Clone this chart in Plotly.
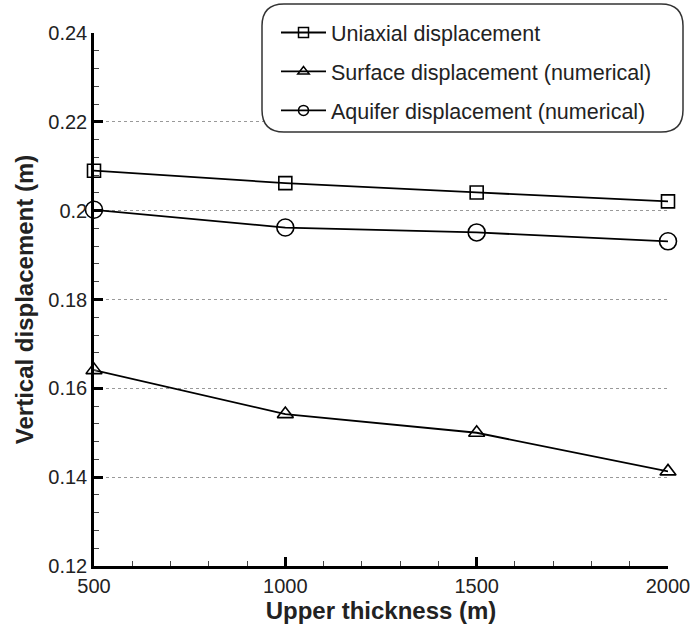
import plotly.graph_objects as go

thickness = [500, 1000, 1500, 2000]
uniaxial = [0.209, 0.2062, 0.2041, 0.2021]
surface = [0.1641, 0.1542, 0.1500, 0.1413]
aquifer = [0.2002, 0.1962, 0.1951, 0.1931]
names = ["Uniaxial displacement", "Surface displacement (numerical)", "Aquifer displacement (numerical)"]
y_ticks = [0.12, 0.14, 0.16, 0.18, 0.2, 0.22, 0.24]
x_ticks = [500, 1000, 1500, 2000]

FONT = "Arial, Liberation Sans, sans-serif"

fig = go.Figure()
series = [(uniaxial, "square-open", 13), (surface, "triangle-up-open", 14), (aquifer, "circle-open", 17)]
for i, (vals, sym, sz) in enumerate(series):
    fig.add_trace(go.Scatter(
        x=thickness, y=vals, name=names[i], mode="lines+markers",
        line=dict(color="black", width=1.8),
        marker=dict(symbol=sym, size=sz, color="black", line=dict(color="black", width=1.6)),
        showlegend=False, cliponaxis=False,
    ))
# legend entries (smaller markers as in the reference legend)
for i, (vals, sym, sz) in enumerate(series):
    fig.add_trace(go.Scatter(
        x=[None], y=[None], name=names[i], mode="lines+markers",
        line=dict(color="black", width=1.8),
        marker=dict(symbol=sym, size=10, color="black", line=dict(color="black", width=1.5)),
        legendgroup=f"g{i}",
    ))

# rounded legend box
x0, x1 = (262 - 94) / 574, (683 - 94) / 574
y1, y0 = (566 - 4) / 533, (566 - 132) / 533
rx, ry = 22 / 574, 22 / 533
path = (f"M {x0+rx},{y1} L {x1-rx},{y1} Q {x1},{y1} {x1},{y1-ry} L {x1},{y0+ry} "
        f"Q {x1},{y0} {x1-rx},{y0} L {x0+rx},{y0} Q {x0},{y0} {x0},{y0+ry} "
        f"L {x0},{y1-ry} Q {x0},{y1} {x0+rx},{y1} Z")
fig.add_shape(type="path", path=path, xref="paper", yref="paper",
              line=dict(color="#333", width=1.5), fillcolor="white", layer="above")

fig.update_layout(
    width=694, height=629,
    margin=dict(l=94, r=26, t=33, b=63, autoexpand=False),
    paper_bgcolor="white", plot_bgcolor="white",
    font=dict(family=FONT, size=20, color="#222"),
    showlegend=True,
    legend=dict(x=(276 - 94) / 574, y=(566 - 12) / 533, xanchor="left", yanchor="top",
                bgcolor="rgba(0,0,0,0)", borderwidth=0, traceorder="grouped",
                tracegroupgap=8, font=dict(family=FONT, size=21.5, color="#222"),
                itemsizing="trace", itemwidth=45),
    xaxis=dict(
        range=[500, 2000], tickvals=x_ticks, ticks="inside", ticklen=9, tickwidth=2.5,
        tickcolor="black", showline=True, linecolor="black", linewidth=2.5,
        showgrid=False, zeroline=False, automargin=False,
        minor=dict(ticks="inside", ticklen=5, tickwidth=1.2, tickcolor="#444", dtick=100),
        title=dict(text="<b>Upper thickness (m)</b>", font=dict(size=24, family=FONT, color="#222"), standoff=4),
        tickfont=dict(size=20, family=FONT, color="#222"),
    ),
    yaxis=dict(
        range=[0.12, 0.24], tickvals=y_ticks, ticktext=[str(v) for v in y_ticks],
        ticks="inside", ticklen=9, tickwidth=2.5, tickcolor="black",
        showline=True, linecolor="black", linewidth=2.5, automargin=False,
        showgrid=True, gridcolor="#999", griddash="dot", gridwidth=1.2, zeroline=False,
        minor=dict(ticks="inside", ticklen=5, tickwidth=1.2, tickcolor="#444", dtick=0.004, showgrid=False),
        title=dict(text="<b>Vertical displacement (m)</b>", font=dict(size=24, family=FONT, color="#222"), standoff=8),
        tickfont=dict(size=20, family=FONT, color="#222"),
    ),
)

fig.write_html("out.html")
